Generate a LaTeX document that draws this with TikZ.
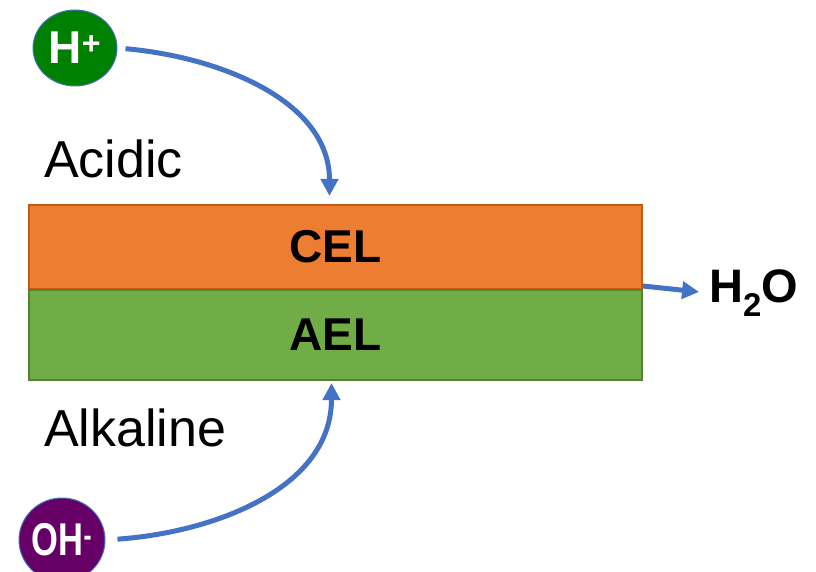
\documentclass[tikz,border=0pt]{standalone}
\usepackage{fontspec}
\setmainfont{Liberation Sans}
\usepackage{graphicx}
\usepackage{tikz}
\usetikzlibrary{arrows.meta,positioning,shapes.geometric}

\definecolor{ionblue}{RGB}{68,114,196}
\definecolor{celorange}{RGB}{237,125,49}
\definecolor{celedge}{RGB}{197,90,17}
\definecolor{aelgreen}{RGB}{112,173,71}
\definecolor{aeledge}{RGB}{84,130,53}
\definecolor{hgreen}{RGB}{0,128,0}
\definecolor{ohpurple}{RGB}{102,0,102}

\begin{document}
\begin{tikzpicture}[x=1pt, y=-1pt,
  ion/.style={ellipse, draw=ionblue, line width=1pt, text=white, inner sep=0pt, font=\fontsize{46}{46}\selectfont\bfseries},
  layer/.style={draw, line width=2pt, minimum width=613pt, inner sep=0pt, font=\fontsize{46}{46}\selectfont\bfseries},
  label/.style={anchor=west, inner sep=0pt, font=\fontsize{52}{52}\selectfont},
  arrow/.style={-{Triangle[length=17pt,width=17pt]}, line width=5pt, ionblue}
]
\clip (0,0) rectangle (816,572);
\useasboundingbox (0,0) rectangle (816,572);
\node[layer, fill=celorange, draw=celedge, minimum height=84pt] (cel) at (335.5,247) {CEL};
\node[layer, fill=aelgreen, draw=aeledge, minimum height=90pt] (ael) at (335.5,335) {AEL};
\node[ion, fill=hgreen, minimum width=84pt, minimum height=76pt] (hplus) at (75,48) {H\textsuperscript{+}};
\node[ion, fill=ohpurple, minimum width=86pt, minimum height=84pt] (ohminus) at (62,540) {\scalebox{0.75}[1]{OH\textsuperscript{-}}};
\node[label] (acidic) at (44,159) {Acidic};
\node[label] (alkaline) at (44,428) {Alkaline};
\node[label, font=\fontsize{47}{47}\selectfont\bfseries] (water) at (709,293) {H\textsubscript{2}O};
\draw[arrow, shorten <=8pt, shorten >=8pt] (hplus.east) to[out=-5, in=90] ([xshift=-6pt]cel.north);
\draw[arrow, shorten <=12pt, shorten >=2pt] (ohminus.east) to[out=4, in=-90] ([xshift=-4pt]ael.south);
\draw[arrow, shorten >=10pt] ([yshift=4pt]cel.south east) -- (water.west);
\end{tikzpicture}
\end{document}
